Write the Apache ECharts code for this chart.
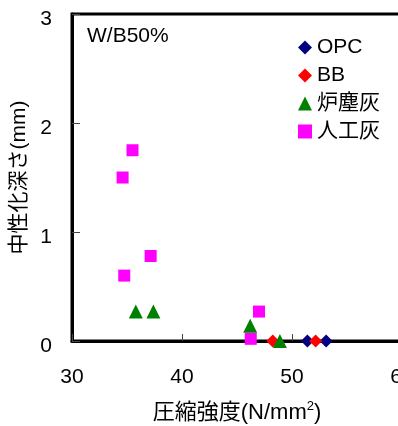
<!DOCTYPE html>
<html><head><meta charset="utf-8">
<script src="https://cdn.jsdelivr.net/npm/echarts@6/dist/echarts.min.js"></script>
<style>html,body{margin:0;padding:0;background:#fff}#c{width:398px;height:426px}</style>
</head><body><div id="c"></div>
<script>
const seriesNames = ['OPC', 'BB', '炉塵灰', '人工灰'];
const opcData = [[51.4, 0], [53.1, 0]];
const bbData = [[48.25, 0], [52.15, 0]];
const rojinData = [[35.8, 0.27], [37.4, 0.27], [46.2, 0.14], [48.9, 0]];
const jinkoData = [[35.5, 1.75], [34.6, 1.50], [34.75, 0.60], [37.15, 0.78], [47.0, 0.27], [46.25, 0.02]];
const xTicks = [30, 40, 50, 60];
const yTicks = [0, 1, 2, 3];

const FF = '"Liberation Sans", Arial, "Noto Sans CJK JP", sans-serif';
const chart = echarts.init(document.getElementById('c'), null, {renderer: 'canvas'});
chart.setOption({
  animation: false,
  backgroundColor: '#fff',
  textStyle: {fontFamily: FF, color: '#000'},
  grid: {left: 72, top: 14, width: 330, height: 327, containLabel: false, outerBoundsMode: 'none', show: true, borderColor: '#000', borderWidth: 3, backgroundColor: 'transparent'},
  legend: {
    orient: 'vertical', left: 293, top: 32, itemWidth: 14, itemHeight: 14, itemGap: 7,
    textStyle: {fontFamily: FF, fontSize: 21, color: '#000', lineHeight: 21},
    data: seriesNames
  },
  graphic: [{type: 'text', left: 87, top: 26, style: {text: 'W/B50%', font: '21px ' + FF, fill: '#000'}}],
  xAxis: {
    type: 'value', min: xTicks[0], max: xTicks[xTicks.length - 1], interval: 10,
    name: '圧縮強度(N/mm{sup|2})', nameLocation: 'middle', nameGap: 59,
    nameTextStyle: {fontSize: 22, color: '#000', fontFamily: FF, rich: {sup: {fontSize: 13, verticalAlign: 'top', padding: [0, 0, 12, 0]}}},
    axisLine: {show: true, lineStyle: {color: '#000', width: 3}},
    axisTick: {show: true, inside: true, length: 7, lineStyle: {color: '#444', width: 1}},
    axisLabel: {fontSize: 21, color: '#000', margin: 26, fontFamily: FF},
    splitLine: {show: false}
  },
  yAxis: {
    type: 'value', min: yTicks[0], max: yTicks[yTicks.length - 1], interval: 1,
    name: '中性化深さ(mm)', nameLocation: 'middle', nameGap: 42,
    nameTextStyle: {fontSize: 21, color: '#000', fontFamily: FF},
    axisLine: {show: true, lineStyle: {color: '#000', width: 3}},
    axisTick: {show: true, inside: true, length: 8, lineStyle: {color: '#444', width: 1}},
    axisLabel: {color: '#000', margin: 20, fontFamily: FF, formatter: '{v|{value}}',
      rich: {v: {fontSize: 21, fontFamily: FF, color: '#000', padding: [10, 0, 0, 0]}}},
    splitLine: {show: false}
  },
  series: [
    {name: seriesNames[0], type: 'scatter', data: opcData, symbol: 'diamond', symbolSize: 13, itemStyle: {color: '#000080', opacity: 1}, z: 3},
    {name: seriesNames[1], type: 'scatter', data: bbData, symbol: 'diamond', symbolSize: 13, itemStyle: {color: '#ff0000', opacity: 1}, z: 4},
    {name: seriesNames[2], type: 'scatter', data: rojinData, symbol: 'triangle', symbolSize: 14, itemStyle: {color: '#008000', opacity: 1}, z: 5},
    {name: seriesNames[3], type: 'scatter', data: jinkoData, symbol: 'rect', symbolSize: 12, itemStyle: {color: '#ff00ff', opacity: 1}, z: 2}
  ]
});
</script></body></html>
